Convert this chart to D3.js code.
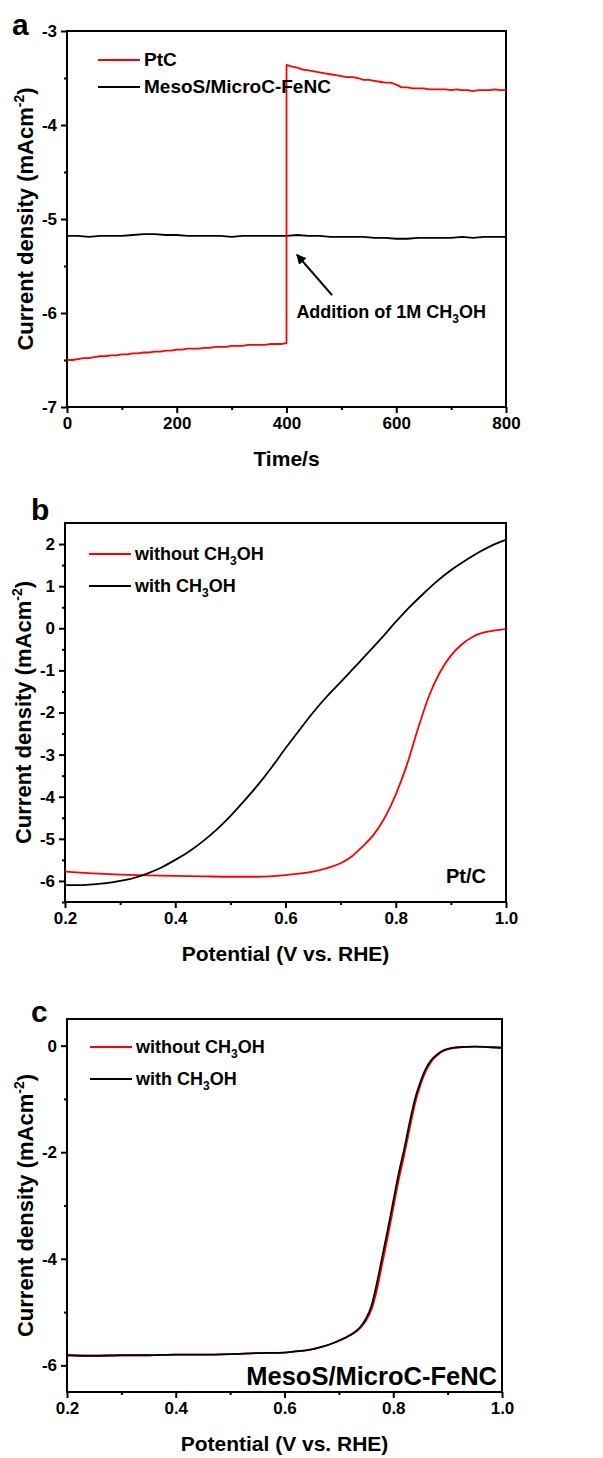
<!DOCTYPE html>
<html>
<head>
<meta charset="utf-8">
<script src="https://cdn.jsdelivr.net/npm/d3@7"></script>
<style>
  body { margin: 0; background: #fff; }
  svg text { font-family: "Liberation Sans", Arial, sans-serif; font-weight: bold; fill: #000; }
</style>
</head>
<body>
<svg id="fig" width="603" height="1458"></svg>
<script>
// ---- panel a: chronoamperometry, methanol added at 400 s ----
const timeStepA = 10;
const ptcBefore = [ // 0..400 s
  -6.50,-6.50,-6.49,-6.48,-6.48,-6.47,-6.46,-6.46,-6.45,-6.45,
  -6.44,-6.44,-6.43,-6.43,-6.42,-6.42,-6.41,-6.41,-6.40,-6.40,
  -6.39,-6.39,-6.38,-6.38,-6.38,-6.37,-6.37,-6.36,-6.36,-6.36,
  -6.35,-6.35,-6.35,-6.34,-6.34,-6.34,-6.34,-6.33,-6.33,-6.33,-6.32];
const ptcAfter = [ // 400..800 s
  -3.36,-3.38,-3.39,-3.41,-3.42,-3.43,-3.44,-3.45,-3.46,-3.47,
  -3.48,-3.49,-3.49,-3.50,-3.52,-3.52,-3.53,-3.54,-3.55,-3.55,
  -3.57,-3.60,-3.60,-3.61,-3.61,-3.61,-3.62,-3.62,-3.62,-3.62,
  -3.63,-3.62,-3.63,-3.63,-3.64,-3.63,-3.63,-3.63,-3.62,-3.63,-3.63];
const fencStepA = 20;
const fencA = [ // 0..800 s
  -5.18,-5.18,-5.19,-5.18,-5.18,-5.18,-5.17,-5.16,-5.16,-5.17,
  -5.17,-5.18,-5.18,-5.18,-5.18,-5.19,-5.18,-5.18,-5.18,-5.18,
  -5.18,-5.17,-5.18,-5.18,-5.19,-5.19,-5.19,-5.19,-5.20,-5.20,
  -5.21,-5.21,-5.20,-5.20,-5.20,-5.20,-5.19,-5.20,-5.19,-5.19,-5.19];
const ticksXA = [0, 200, 400, 600, 800];
const minorXA = [100, 300, 500, 700];
const ticksYA = [-7, -6, -5, -4, -3];
const minorYA = [-6.5, -5.5, -4.5, -3.5];
const arrowA = [[483, -5.81], [419, -5.38]];

// ---- panel b: Pt/C LSV ----
const potB = [0.20,0.225,0.25,0.275,0.30,0.325,0.35,0.375,0.40,0.425,0.45,0.475,0.50,0.525,0.55,0.575,
  0.60,0.625,0.65,0.675,0.70,0.725,0.75,0.775,0.80,0.825,0.85,0.875,0.90,0.925,0.95,0.975,1.00];
const withB = [-6.10,-6.10,-6.08,-6.05,-6.00,-5.93,-5.82,-5.68,-5.50,-5.30,-5.06,-4.78,-4.46,-4.10,-3.72,-3.30,
  -2.85,-2.42,-2.00,-1.62,-1.28,-0.93,-0.58,-0.22,0.15,0.50,0.82,1.12,1.38,1.60,1.80,1.97,2.10];
const potB2 = [0.20,0.25,0.30,0.35,0.40,0.45,0.50,0.55,0.60,0.65,0.68,0.70,0.72,0.74,0.76,0.78,0.80,0.82,
  0.84,0.86,0.88,0.90,0.92,0.94,0.96,0.98,1.00];
const withoutB = [-5.78,-5.82,-5.85,-5.87,-5.88,-5.89,-5.90,-5.90,-5.86,-5.78,-5.68,-5.58,-5.42,-5.18,-4.90,-4.50,
  -3.95,-3.25,-2.40,-1.62,-1.05,-0.65,-0.38,-0.20,-0.10,-0.05,-0.02];
const ticksXB = [0.2, 0.4, 0.6, 0.8, 1.0];
const minorXB = [0.3, 0.5, 0.7, 0.9];
const ticksYB = [-6, -5, -4, -3, -2, -1, 0, 1, 2];
const minorYB = [-6.5, -5.5, -4.5, -3.5, -2.5, -1.5, -0.5, 0.5, 1.5];

// ---- panel c: MesoS/MicroC-FeNC LSV ----
const potC = [0.20,0.25,0.30,0.35,0.40,0.45,0.50,0.55,0.60,0.63,0.65,0.67,0.69,0.71,0.73,0.74,0.75,0.76,0.77,
  0.78,0.79,0.80,0.81,0.82,0.83,0.84,0.85,0.86,0.87,0.88,0.89,0.90,0.92,0.95,0.98,1.00];
const withC = [-5.81,-5.82,-5.81,-5.81,-5.80,-5.80,-5.79,-5.77,-5.76,-5.73,-5.70,-5.65,-5.58,-5.49,-5.37,-5.27,-5.12,-4.88,-4.45,
  -3.95,-3.45,-2.92,-2.40,-1.95,-1.45,-1.00,-0.68,-0.43,-0.27,-0.17,-0.10,-0.06,-0.03,-0.02,-0.03,-0.04];
const withoutC = [-5.81,-5.82,-5.81,-5.81,-5.80,-5.80,-5.79,-5.77,-5.76,-5.73,-5.70,-5.65,-5.58,-5.49,-5.38,-5.29,-5.16,-4.95,-4.58,
  -4.08,-3.58,-3.05,-2.52,-2.06,-1.56,-1.09,-0.74,-0.48,-0.30,-0.19,-0.11,-0.07,-0.03,-0.02,-0.03,-0.04];
const ticksYC = [-6, -4, -2, 0];
const minorYC = [-5, -3, -1];

const RED = "#ff0000";
const svg = d3.select("#fig");

function panel(o) {
  const g = svg.append("g");
  const x = d3.scaleLinear().domain(o.xDomain).range([o.left, o.right]);
  const y = d3.scaleLinear().domain(o.yDomain).range([o.bottom, o.top]);

  // minor + major ticks, outward
  g.append("g").attr("transform", `translate(0,${o.bottom})`)
    .call(d3.axisBottom(x).tickValues(o.xMinor).tickSize(3).tickFormat(""));
  g.append("g").attr("transform", `translate(0,${o.bottom})`)
    .call(d3.axisBottom(x).tickValues(o.xTicks).tickSize(6).tickPadding(4).tickFormat(o.xFmt))
    .selectAll("text").attr("font-size", "17px");
  g.append("g").attr("transform", `translate(${o.left},0)`)
    .call(d3.axisLeft(y).tickValues(o.yMinor).tickSize(3).tickFormat(""));
  g.append("g").attr("transform", `translate(${o.left},0)`)
    .call(d3.axisLeft(y).tickValues(o.yTicks).tickSize(6).tickPadding(4).tickFormat(d => String(d)))
    .selectAll("text").attr("font-size", "17px");
  g.selectAll(".domain").remove();
  g.selectAll(".tick line").attr("stroke", "#000").attr("stroke-width", 2);

  g.append("rect")
    .attr("x", o.left).attr("y", o.top)
    .attr("width", o.right - o.left).attr("height", o.bottom - o.top)
    .attr("fill", "none").attr("stroke", "#000").attr("stroke-width", 2);

  // axis titles
  const yt = g.append("text")
    .attr("transform", `translate(${o.left - 34},${(o.top + o.bottom) / 2}) rotate(-90)`)
    .attr("text-anchor", "middle").attr("font-size", "22px");
  yt.append("tspan").text("Current density (mAcm");
  yt.append("tspan").attr("font-size", "14px").attr("dy", -9).text("-2");
  yt.append("tspan").attr("dy", 9).text(")");

  g.append("text").attr("x", (o.left + o.right) / 2).attr("y", o.bottom + 59)
    .attr("text-anchor", "middle").attr("font-size", "21px").text(o.xTitle);

  g.append("text").attr("x", o.tagX).attr("y", o.tagY)
    .attr("font-size", "30px").text(o.tag);

  return { g, x, y };
}

function drawLine(p, pts, color, curve) {
  p.g.append("path").datum(pts)
    .attr("fill", "none").attr("stroke", color).attr("stroke-width", 1.8)
    .attr("stroke-linejoin", "round")
    .attr("d", d3.line().curve(curve || d3.curveLinear).x(d => p.x(d[0])).y(d => p.y(d[1])));
}

function addParts(t, parts) {
  parts.forEach(pt => {
    if (pt.sub) t.append("tspan").attr("font-size", "12px").attr("dy", 5).text(pt.sub);
    else t.append("tspan").attr("dy", pt.after ? -5 : 0).text(pt.text);
  });
}

function legend(p, items, x0, y0, dy, fs) {
  items.forEach((it, i) => {
    const yy = y0 + i * dy;
    p.g.append("line").attr("x1", x0).attr("x2", x0 + 42).attr("y1", yy).attr("y2", yy)
      .attr("stroke", it.color).attr("stroke-width", 2);
    const t = p.g.append("text").attr("x", x0 + 46).attr("y", yy + 6).attr("font-size", fs);
    addParts(t, it.parts);
  });
}

const methParts = pre => [{ text: pre + "CH" }, { sub: "3" }, { text: "OH", after: true }];

// ---- a ----
const pa = panel({
  left: 67, right: 506, top: 31, bottom: 407,
  xDomain: [0, 800], yDomain: [-7, -3],
  xTicks: ticksXA, xMinor: minorXA, yTicks: ticksYA, yMinor: minorYA,
  xFmt: d => String(d), xTitle: "Time/s", tag: "a", tagX: 12, tagY: 35
});
drawLine(pa, fencA.map((v, i) => [i * fencStepA, v]), "#000");
drawLine(pa, ptcBefore.map((v, i) => [i * timeStepA, v])
  .concat(ptcAfter.map((v, i) => [400 + i * timeStepA, v])), RED);
legend(pa, [
  { color: RED, parts: [{ text: "PtC" }] },
  { color: "#000", parts: [{ text: "MesoS/MicroC-FeNC" }] }
], 98, 60, 27, "19px");

pa.g.append("defs").append("marker").attr("id", "arr")
  .attr("viewBox", "0 0 10 10").attr("refX", 9).attr("refY", 5)
  .attr("markerWidth", 5).attr("markerHeight", 5).attr("orient", "auto")
  .append("path").attr("d", "M0,0 L10,5 L0,10 Z").attr("fill", "#000");
pa.g.append("line")
  .attr("x1", pa.x(arrowA[0][0])).attr("y1", pa.y(arrowA[0][1]))
  .attr("x2", pa.x(arrowA[1][0])).attr("y2", pa.y(arrowA[1][1]))
  .attr("stroke", "#000").attr("stroke-width", 2).attr("marker-end", "url(#arr)");
const ann = pa.g.append("text").attr("x", pa.x(418)).attr("y", pa.y(-6.05)).attr("font-size", "18px");
addParts(ann, methParts("Addition of 1M "));

// ---- b ----
const pb = panel({
  left: 65, right: 506, top: 523, bottom: 902,
  xDomain: [0.2, 1.0], yDomain: [-6.5, 2.5],
  xTicks: ticksXB, xMinor: minorXB, yTicks: ticksYB, yMinor: minorYB,
  xFmt: d3.format(".1f"), xTitle: "Potential (V vs. RHE)", tag: "b", tagX: 31, tagY: 520
});
drawLine(pb, potB2.map((v, i) => [v, withoutB[i]]), RED, d3.curveMonotoneX);
drawLine(pb, potB.map((v, i) => [v, withB[i]]), "#000", d3.curveMonotoneX);
legend(pb, [
  { color: RED, parts: methParts("without ") },
  { color: "#000", parts: methParts("with ") }
], 89, 554, 32, "18px");
pb.g.append("text").attr("x", 486).attr("y", 883).attr("text-anchor", "end")
  .attr("font-size", "20px").text("Pt/C");

// ---- c ----
const pc = panel({
  left: 67, right: 502, top: 1019, bottom: 1392,
  xDomain: [0.2, 1.0], yDomain: [-6.5, 0.5],
  xTicks: ticksXB, xMinor: minorXB, yTicks: ticksYC, yMinor: minorYC,
  xFmt: d3.format(".1f"), xTitle: "Potential (V vs. RHE)", tag: "c", tagX: 31, tagY: 1022
});
drawLine(pc, potC.map((v, i) => [v, withoutC[i]]), RED, d3.curveMonotoneX);
drawLine(pc, potC.map((v, i) => [v, withC[i]]), "#000", d3.curveMonotoneX);
legend(pc, [
  { color: RED, parts: methParts("without ") },
  { color: "#000", parts: methParts("with ") }
], 90, 1047, 32, "18px");
pc.g.append("text").attr("x", 497).attr("y", 1385).attr("text-anchor", "end")
  .attr("font-size", "25.5px").text("MesoS/MicroC-FeNC");
</script>
</body>
</html>
